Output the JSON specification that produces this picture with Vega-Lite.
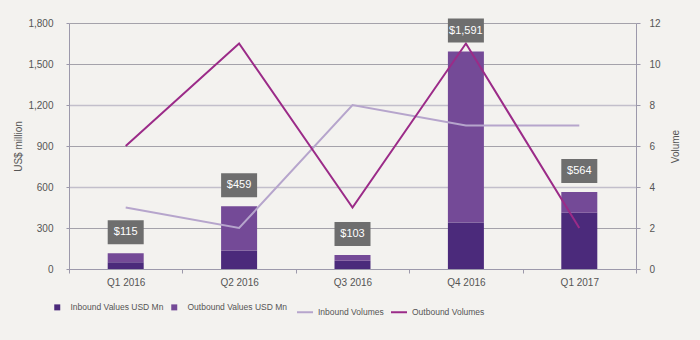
{
  "$schema": "https://vega.github.io/schema/vega-lite/v6.json",
  "autosize": "none",
  "width": 567,
  "height": 246,
  "padding": {"left": 69, "top": 23, "right": 64, "bottom": 71},
  "background": "#f3f2ef",
  "config": {
    "font": "Liberation Sans",
    "view": {"stroke": null},
    "axis": {"labelColor": "#555555", "titleColor": "#555555", "labelFontSize": 10, "titleFontSize": 10, "titleFontWeight": "normal", "domainColor": "#9c99ab", "tickColor": "#9c99ab"},
    "legend": {"labelColor": "#555555", "labelFontSize": 8.5, "padding": 0}
  },
  "data": {
    "values": [
      {"quarter": "Q1 2016", "Inbound Values USD Mn": 50, "Outbound Values USD Mn": 65, "total": 115, "Inbound Volumes": 3, "Outbound Volumes": 6},
      {"quarter": "Q2 2016", "Inbound Values USD Mn": 135, "Outbound Values USD Mn": 324, "total": 459, "Inbound Volumes": 2, "Outbound Volumes": 11},
      {"quarter": "Q3 2016", "Inbound Values USD Mn": 60, "Outbound Values USD Mn": 43, "total": 103, "Inbound Volumes": 8, "Outbound Volumes": 3},
      {"quarter": "Q4 2016", "Inbound Values USD Mn": 340, "Outbound Values USD Mn": 1251, "total": 1591, "Inbound Volumes": 7, "Outbound Volumes": 11},
      {"quarter": "Q1 2017", "Inbound Values USD Mn": 412, "Outbound Values USD Mn": 152, "total": 564, "Inbound Volumes": 7, "Outbound Volumes": 2}
    ]
  },
  "encoding": {
    "x": {
      "field": "quarter", "type": "nominal", "sort": null,
      "scale": {"paddingInner": 0, "paddingOuter": 0},
      "axis": {"title": null, "labelAngle": 0, "tickBand": "extent", "tickSize": 4, "labelPadding": 4, "domainColor": "#9c99ab"}
    }
  },
  "layer": [
    {
      "transform": [{"fold": ["Inbound Values USD Mn", "Outbound Values USD Mn"], "as": ["series", "value"]}],
      "mark": {"type": "bar", "width": 36},
      "encoding": {
        "y": {"field": "value", "type": "quantitative", "stack": "zero",
          "scale": {"domain": [0, 1800], "nice": false},
          "axis": {"title": "US$ million", "orient": "left", "values": [0, 300, 600, 900, 1200, 1500, 1800], "format": ",.0f", "tickSize": 3, "labelPadding": 13, "titlePadding": 4, "grid": true,
            "gridColor": {"condition": {"test": "datum.value == 600 || datum.value == 1200", "value": "#c2bfcb"}, "value": "#a4a2aa"},
            "gridWidth": {"condition": {"test": "datum.value == 600 || datum.value == 1200", "value": 1.5}, "value": 1}}},
        "fill": {"field": "series", "type": "nominal",
          "scale": {"domain": ["Inbound Values USD Mn", "Outbound Values USD Mn"], "range": ["#4b2a7b", "#744a97"]},
          "legend": {"title": null, "orient": "none", "direction": "horizontal", "legendX": -16, "legendY": 280, "symbolType": "square", "symbolSize": 36, "labelOffset": 9, "columnPadding": 6}},
        "order": {"field": "series", "type": "nominal"}
      }
    },
    {
      "transform": [{"fold": ["Inbound Volumes", "Outbound Volumes"], "as": ["series", "vol"]}],
      "mark": {"type": "line", "strokeWidth": 2},
      "encoding": {
        "y": {"field": "vol", "type": "quantitative",
          "scale": {"domain": [0, 12], "nice": false},
          "axis": {"title": "Volume", "orient": "right", "values": [0, 2, 4, 6, 8, 10, 12], "grid": false, "tickSize": 4, "labelPadding": 9, "titlePadding": 20, "titleAngle": 270, "titleBaseline": "bottom"}},
        "stroke": {"field": "series", "type": "nominal",
          "scale": {"domain": ["Inbound Volumes", "Outbound Volumes"], "range": ["#b6a5cc", "#9b2b88"]},
          "legend": {"title": null, "orient": "none", "direction": "horizontal", "legendX": 227, "legendY": 280, "symbolType": "stroke", "symbolSize": 256, "symbolStrokeWidth": 2, "labelOffset": 4, "columnPadding": 3}}
      }
    },
    {
      "mark": {"type": "point", "shape": "M-2,-1.333H2V1.333H-2Z", "size": 324, "filled": true, "fill": "#6e6e6e", "opacity": 1, "yOffset": -21},
      "encoding": {
        "y": {"field": "total", "type": "quantitative", "scale": {"domain": [0, 1800], "nice": false}, "axis": null}
      }
    },
    {
      "mark": {"type": "text", "color": "#ffffff", "fontSize": 11, "baseline": "middle", "yOffset": -21},
      "encoding": {
        "y": {"field": "total", "type": "quantitative", "scale": {"domain": [0, 1800], "nice": false}, "axis": null},
        "text": {"field": "total", "type": "quantitative", "format": "$,"}
      }
    }
  ],
  "resolve": {"scale": {"y": "independent"}}
}
